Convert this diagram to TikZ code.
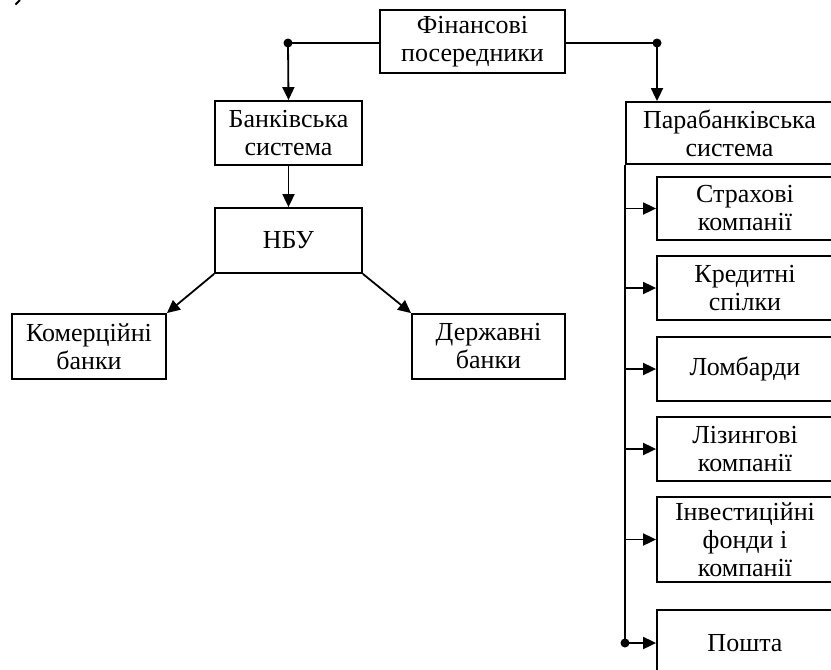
\documentclass[tikz,border=0pt]{standalone}
\usepackage{fontspec}
\setmainfont{Liberation Serif}
\usetikzlibrary{arrows.meta, positioning}

\begin{document}
\begin{tikzpicture}[x=1pt, y=-1pt, line width=1.8pt,
  caja/.style={draw, rectangle, align=center, inner sep=0pt,
    font=\fontsize{26}{28}\selectfont},
  flecha/.style={-{Triangle[length=13pt, width=12pt]}},
  punto/.style={circle, fill, inner sep=0pt, minimum size=9pt}]
\useasboundingbox (0,0) rectangle (831,670);
\clip (0,0) rectangle (831,670);
% trazo suelto arriba a la izquierda
\draw (15.5,4.5) -- (20,0);
% Cajas principales
\node[caja, minimum width=185pt, minimum height=63pt] (fin) at (472.5,41.5) {Фінансові\\посередники};
\node[caja, minimum width=147pt, minimum height=64pt] (bank) at (288.5,133) {Банківська\\система};
\node[caja, minimum width=147pt, minimum height=65pt] (nbu) at (288.5,240.5) {НБУ};
\node[caja, minimum width=154pt, minimum height=65pt] (kom) at (89,346.5) {Комерційні\\банки};
\node[caja, minimum width=153pt, minimum height=65pt] (derzh) at (488.5,346.5) {Державні\\банки};
\node[caja, minimum width=207pt, minimum height=62pt] (para) at (729.5,133) {Парабанківська\\система};
% Cajas de la parte parabancaria
\node[caja, minimum width=176pt, minimum height=63pt] (strakh) at (745,208.5) {Страхові\\компанії};
\node[caja, minimum width=176pt, minimum height=64pt] (kred) at (745,288) {Кредитні\\спілки};
\node[caja, minimum width=176pt, minimum height=64pt] (lomb) at (745,369) {Ломбарди};
\node[caja, minimum width=176pt, minimum height=64pt] (liz) at (745,449) {Лізингові\\компанії};
\node[caja, minimum width=176pt, minimum height=85pt] (inv) at (745,539.5) {Інвестиційні\\фонди і\\компанії};
\node[caja, minimum width=176pt, minimum height=66pt] (posh) at (745,643) {Пошта};
% Puntos de union
\node[punto] (dl) at (288,43) {};
\node[punto] (dr) at (657,43) {};
\node[punto] (db) at (625,643) {};
% Conexiones
\draw (dl.center) -- (dl.center -| fin.west);
\draw (dr.center) -- (dr.center -| fin.east);
\draw[flecha] (dl.center) -- (bank.north);
\draw[flecha] (dr.center) -- (dr.center |- para.north);
\draw[flecha] (bank) -- (nbu);
\draw[flecha] (nbu.south west) -- (kom.north east);
\draw[flecha] (nbu.south east) -- (derzh.north west);
\draw (db.center |- para.south) -- (db.center);
\foreach \b in {strakh, kred, lomb, liz, inv, posh}
  \draw[flecha] (db.center |- \b.west) -- (\b.west);
\end{tikzpicture}
\end{document}
